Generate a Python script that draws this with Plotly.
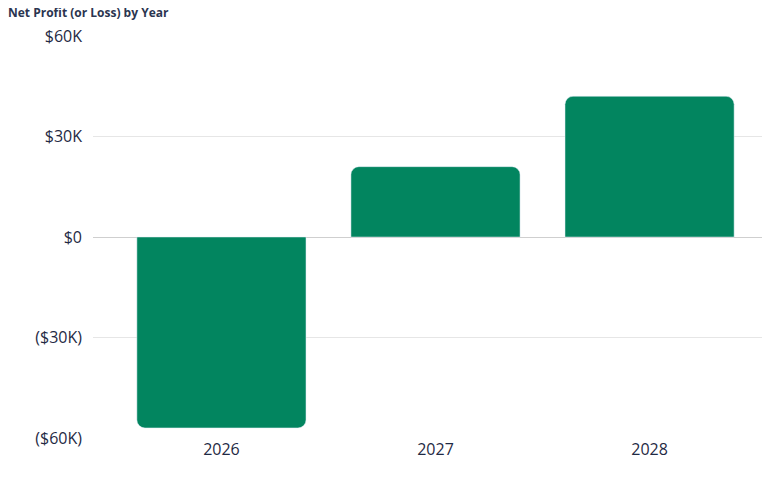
import plotly.graph_objects as go

years = ["2026", "2027", "2028"]
profit = [-57000, 21000, 42000]
tick_vals = [-60000, -30000, 0, 30000, 60000]
tick_text = ["($60K)", "($30K)", "$0", "$30K", "$60K"]

fig = go.Figure(go.Bar(x=years, y=profit, marker=dict(color="#02855f", cornerradius=8), width=0.79))
fig.update_layout(
    width=770, height=477, margin=dict(l=85, r=0, t=28, b=47, autoexpand=False),
    paper_bgcolor="white", plot_bgcolor="white",
    font=dict(family="Open Sans", color="#1f2a44", size=16),
    title=dict(text="<b>Net Profit (or Loss) by Year</b>", x=0.0, xanchor="left", y=0.998, yanchor="top",
               font=dict(size=12, color="#2b3550")),
    showlegend=False,
)
fig.update_xaxes(range=[-0.6, 2.6], showgrid=False, ticks="", automargin=False, tickfont=dict(size=16))
fig.update_yaxes(range=[-60000, 60000], tickvals=tick_vals, ticktext=tick_text, gridcolor="#e6e6e6",
                 automargin=False, zeroline=True, zerolinecolor="#cfcfcf", zerolinewidth=1,
                 ticklabelstandoff=10, tickfont=dict(size=16))
fig.write_html("out.html")
